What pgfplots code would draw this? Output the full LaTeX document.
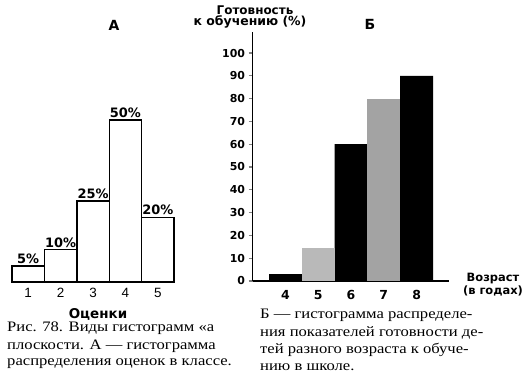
\documentclass[border=0pt]{standalone}
\usepackage{pgfplots}
\pgfplotsset{compat=1.18}
\usepackage{fontspec}
\setmainfont{Liberation Serif}
\setsansfont{Liberation Sans}
\newfontfamily\wb{DejaVu Sans}
\newfontfamily\capfont{Liberation Serif}[FakeStretch=1.15]
\newcommand{\fs}[1]{\fontsize{#1}{#1}\selectfont}
\begin{document}
\begin{tikzpicture}[x=1bp,y=1bp]
\path[use as bounding box] (0,0) rectangle (527,387);
% Histogram A
\begin{axis}[at={(12bp,105bp)}, anchor=south west, scale only axis,
  width=162bp, height=178.2bp,
  xmin=0.5, xmax=5.5, ymin=0, ymax=55, clip=false,
  axis line style={draw=none}, ytick=\empty,
  xtick={1,...,5}, xtick style={draw=none},
  /pgf/number format/assume math mode=true,
  xticklabel style={font=\sffamily\fs{13.5}, yshift=-3bp}]
\addplot[ybar, bar width=1, bar shift=0pt, fill=white, draw=black, line width=1.4bp,
  nodes near coords={\pgfmathprintnumber[assume math mode=true]{\pgfplotspointmeta}\%},
  nodes near coords style={font=\wb\bfseries\fs{13}, text=black, inner sep=1.5bp}]
  coordinates {(1,5) (2,10) (3,25) (4,50) (5,20)};
\end{axis}
% Histogram B
\begin{axis}[at={(252.6bp,106bp)}, anchor=south west, scale only axis,
  width=196.8bp, height=248.5bp,
  xmin=3, xmax=9, ymin=0, ymax=109, clip=false,
  axis x line*=bottom, axis y line*=left,
  axis line style={line width=1.6bp},
  ytick={0,10,...,100}, tick align=outside, major tick length=4bp,
  ytick style={line width=1.2bp},
  xtick={4,...,8}, xtick style={draw=none},
  /pgf/number format/assume math mode=true,
  yticklabel style={font=\wb\bfseries\fs{11}},
  xticklabel style={font=\wb\bfseries\fs{12.5}, yshift=-2bp}]
\addplot[ybar, bar width=1, bar shift=0pt, fill=black, draw=none]
  coordinates {(4,3) (6,60) (8,90)};
\addplot[ybar, bar width=1, bar shift=0pt, fill=gray!55, draw=none]
  coordinates {(5,14.5)};
\addplot[ybar, bar width=1, bar shift=0pt, fill=gray!72, draw=none]
  coordinates {(7,80)};
\end{axis}
% texts
\node[font=\wb\bfseries\fs{14}] at (114,362) {А};
\node[font=\wb\bfseries\fs{14}] at (370,363) {Б};
\node[font=\wb\bfseries\fs{12}] at (255,377) {Готовность};
\node[font=\wb\bfseries\fs{12.5}] at (250,365) {к обучению (\%)};
\node[font=\wb\bfseries\fs{11.5}] at (493,108) {Возраст};
\node[font=\wb\bfseries\fs{11.5}] at (493,96) {(в годах)};
\node[font=\wb\bfseries\fs{13.5}] at (98,73) {Оценки};
\begin{scope}[every node/.style={anchor=west, inner sep=0pt, font=\capfont\fs{14.5}}]
\node at (7,59) {Рис. 78. Виды гистограмм «а};
\node at (7,41) {плоскости. А — гистограмма};
\node at (7,23) {распределения оценок в классе.};
\node at (260,72) {Б — гистограмма распределе-};
\node at (260,54) {ния показателей готовности де-};
\node at (260,37) {тей разного возраста к обуче-};
\node at (260,20) {нию в школе.};
\end{scope}
\end{tikzpicture}
\end{document}
